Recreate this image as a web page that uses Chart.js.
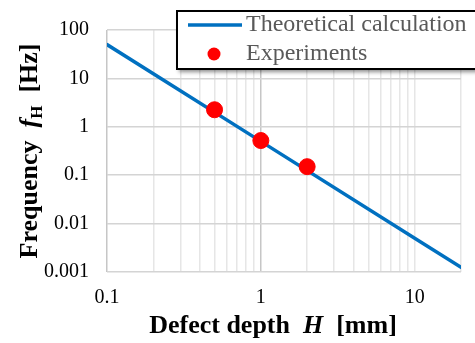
<!DOCTYPE html>
<html>
<head>
<meta charset="utf-8">
<script src="https://cdn.jsdelivr.net/npm/chart.js@4"></script>
<style>
  html, body { margin: 0; padding: 0; background: #fff; }
  #wrap { width: 475px; height: 343px; position: relative; }
</style>
</head>
<body>
<div id="wrap"><canvas id="grafico"></canvas></div>
<script>
// datos
const profundidadTeoria = [0.1, 1, 10, 20];
const frecuenciaTeoria = [50, 0.5, 0.005, 0.00125];
const profundidadExp = [0.5, 1, 2];
const frecuenciaExp = [2.25, 0.52, 0.15];

const ticksX = [0.1, 0.2, 0.3, 0.4, 0.5, 0.6, 0.7, 0.8, 0.9, 1, 2, 3, 4, 5, 6, 7, 8, 9, 10, 20];
const etiquetasX = [0.1, 1, 10];
const ticksY = [0.001, 0.01, 0.1, 1, 10, 100];

const nombreTeoria = 'Theoretical calculation';
const nombreExp = 'Experiments';

const serif = "'Liberation Serif', 'Times New Roman', serif";
const azul = '#0070c0';
const rojo = '#ff0000';

// escribe trozos de texto con distintas fuentes uno tras otro
const escribirTrozos = (ctx, trozos, cx, cy) => {
  let total = 0;
  trozos.forEach((t) => {
    ctx.font = t.font;
    total += ctx.measureText(t.text).width;
  });
  let x = cx - total / 2;
  trozos.forEach((t) => {
    ctx.font = t.font;
    ctx.fillText(t.text, x, cy + (t.dy || 0));
    x += ctx.measureText(t.text).width;
  });
};

const extras = {
  id: 'extras',
  afterDraw(chart) {
    const ctx = chart.ctx;
    const area = chart.chartArea;
    ctx.save();
    ctx.fillStyle = '#000';
    ctx.textBaseline = 'alphabetic';

    // titulo eje x
    const b = `bold 26px ${serif}`;
    const bi = `italic bold 26px ${serif}`;
    escribirTrozos(ctx, [
      { text: 'Defect depth  ', font: b },
      { text: 'H', font: bi },
      { text: '  [mm]', font: b }
    ], 273, 333);

    // titulo eje y
    ctx.save();
    ctx.translate(37, (area.top + area.bottom) / 2);
    ctx.rotate(-Math.PI / 2);
    escribirTrozos(ctx, [
      { text: 'Frequency  ', font: b },
      { text: 'f', font: bi },
      { text: 'H', font: `bold 17px ${serif}`, dy: 5 },
      { text: '  [Hz]', font: b }
    ], 0, 0);
    ctx.restore();

    // leyenda
    const lx = 177, ly = 11, lw = 310, lh = 58;
    ctx.save();
    ctx.shadowColor = 'rgba(0,0,0,0.45)';
    ctx.shadowBlur = 4;
    ctx.shadowOffsetX = 2;
    ctx.shadowOffsetY = 3;
    ctx.fillStyle = '#fff';
    ctx.fillRect(lx, ly, lw, lh);
    ctx.restore();
    ctx.strokeStyle = '#000';
    ctx.lineWidth = 2;
    ctx.strokeRect(lx, ly, lw, lh);

    ctx.strokeStyle = azul;
    ctx.lineWidth = 3.5;
    ctx.beginPath();
    ctx.moveTo(188, 25);
    ctx.lineTo(242, 25);
    ctx.stroke();

    ctx.fillStyle = rojo;
    ctx.beginPath();
    ctx.arc(214, 54, 6.5, 0, Math.PI * 2);
    ctx.fill();

    ctx.fillStyle = '#595959';
    ctx.font = `24px ${serif}`;
    ctx.textBaseline = 'middle';
    ctx.fillText(nombreTeoria, 246, 25);
    ctx.fillText(nombreExp, 246, 54);
    ctx.restore();
  }
};

const ctxGrafico = document.getElementById('grafico');

new Chart(ctxGrafico, {
  type: 'scatter',
  data: {
    datasets: [{
      label: nombreExp,
      data: profundidadExp.map((h, i) => ({ x: h, y: frecuenciaExp[i] })),
      backgroundColor: rojo,
      borderColor: rojo,
      pointRadius: 8,
      pointHoverRadius: 8,
      order: 0
    }, {
      label: nombreTeoria,
      data: profundidadTeoria.map((h, i) => ({ x: h, y: frecuenciaTeoria[i] })),
      showLine: true,
      borderColor: azul,
      borderWidth: 3.5,
      borderCapStyle: 'round',
      pointRadius: 0,
      pointHoverRadius: 0,
      fill: false,
      order: 1
    }]
  },
  options: {
    responsive: true,
    maintainAspectRatio: false,
    animation: false,
    events: [],
    layout: {
      padding: { top: 27, right: 14, left: 0, bottom: 0 }
    },
    plugins: {
      legend: { display: false },
      tooltip: { enabled: false }
    },
    scales: {
      x: {
        type: 'logarithmic',
        min: 0.1,
        max: 20,
        afterBuildTicks: (scale) => {
          scale.ticks = ticksX.map((v) => ({ value: v }));
        },
        afterFit: (scale) => {
          scale.height = 71;
        },
        border: { display: false },
        grid: {
          drawTicks: false,
          color: (c) => (c.tick && (c.tick.value === 1 || c.tick.value === 0.1) ? '#c6c6c6' : '#e6e6e6'),
          lineWidth: 1.5
        },
        ticks: {
          autoSkip: false,
          maxRotation: 0,
          padding: 14,
          color: '#000',
          font: { family: serif, size: 20 },
          callback: (v) => (etiquetasX.includes(v) ? String(v) : '')
        }
      },
      y: {
        type: 'logarithmic',
        min: 0.001,
        max: 100,
        afterBuildTicks: (scale) => {
          scale.ticks = ticksY.map((v) => ({ value: v }));
        },
        afterFit: (scale) => {
          scale.width = 107;
        },
        border: { display: false },
        grid: {
          drawTicks: false,
          color: '#d4d4d4',
          lineWidth: 1.5
        },
        ticks: {
          autoSkip: false,
          padding: 18,
          color: '#000',
          font: { family: serif, size: 20 },
          callback: (v) => String(v)
        }
      }
    }
  },
  plugins: [extras]
});
</script>
</body>
</html>
